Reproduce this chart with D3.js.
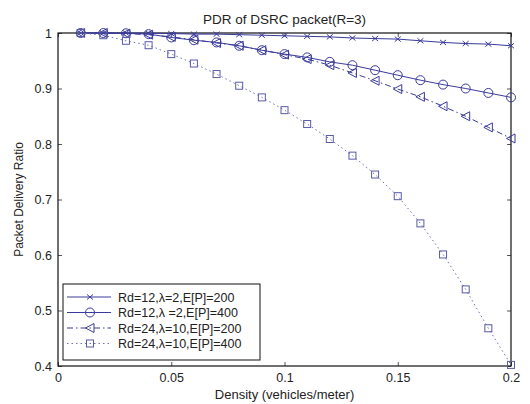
<!DOCTYPE html>
<html>
<head>
<meta charset="utf-8">
<script src="https://cdn.jsdelivr.net/npm/d3@7"></script>
<style>
  body { margin: 0; background: #fff; }
  svg text { font-family: "Liberation Sans", Arial, sans-serif; fill: #222; }
</style>
</head>
<body>
<div id="chart"></div>
<script>
// density values (vehicles/meter)
const density = [0.01, 0.02, 0.03, 0.04, 0.05, 0.06, 0.07, 0.08, 0.09, 0.10,
                 0.11, 0.12, 0.13, 0.14, 0.15, 0.16, 0.17, 0.18, 0.19, 0.20];

const pdrA = [1.0, 1.0, 1.0, 0.9997, 0.999, 0.998, 0.998, 0.997, 0.996, 0.995,
              0.994, 0.993, 0.991, 0.990, 0.989, 0.986, 0.983, 0.981, 0.980, 0.977];
const pdrB = [1.0, 1.0, 0.9995, 0.998, 0.992, 0.987, 0.983, 0.977, 0.969, 0.962,
              0.956, 0.948, 0.942, 0.933, 0.924, 0.915, 0.907, 0.900, 0.892, 0.884];
const pdrC = [1.0, 1.0, 0.999, 0.997, 0.993, 0.988, 0.982, 0.977, 0.969, 0.961,
              0.953, 0.942, 0.928, 0.914, 0.899, 0.885, 0.868, 0.850, 0.830, 0.810];
const pdrD = [1.0, 0.996, 0.986, 0.978, 0.962, 0.945, 0.926, 0.905, 0.884, 0.861,
              0.836, 0.809, 0.779, 0.745, 0.706, 0.657, 0.601, 0.538, 0.468, 0.402];

const seriesNames = ["Rd=12,\u03bb=2,E[P]=200", "Rd=12,\u03bb =2,E[P]=400",
                     "Rd=24,\u03bb=10,E[P]=200", "Rd=24,\u03bb=10,E[P]=400"];
const markers = ["cross", "circle", "triangle", "square"];
const dashes = [null, null, "6,3,1.5,3", "1.5,3"];

const xTicks = [0, 0.05, 0.1, 0.15, 0.2];
const yTicks = [0.4, 0.5, 0.6, 0.7, 0.8, 0.9, 1];

const width = 530, height = 404;
const margin = { top: 33, right: 19, bottom: 38, left: 58 };
const color = "#3a3a9c";

const svg = d3.select("#chart").append("svg")
  .attr("width", width).attr("height", height);

const x = d3.scaleLinear().domain([0, 0.2]).range([margin.left, width - margin.right]);
const y = d3.scaleLinear().domain([0.4, 1]).range([height - margin.bottom, margin.top]);

// axes, MATLAB style ticks pointing inward
const fmt = d => d3.format("~g")(d);
svg.append("g")
  .attr("transform", `translate(0,${y(0.4)})`)
  .call(d3.axisBottom(x).tickValues(xTicks).tickFormat(fmt).tickSizeInner(-4).tickSizeOuter(0).tickPadding(7))
  .call(g => g.select(".domain").remove())
  .call(g => g.selectAll("text").style("font-size", "12.5px").attr("fill", "#222"));
svg.append("g")
  .attr("transform", `translate(${x(0)},0)`)
  .call(d3.axisLeft(y).tickValues(yTicks).tickFormat(fmt).tickSizeInner(-4).tickSizeOuter(0).tickPadding(6))
  .call(g => g.select(".domain").remove())
  .call(g => g.selectAll("text").style("font-size", "12.5px").attr("fill", "#222"));
svg.append("g")
  .attr("transform", `translate(0,${y(1)})`)
  .call(d3.axisTop(x).tickValues(xTicks).tickFormat("").tickSizeInner(-4).tickSizeOuter(0))
  .call(g => g.select(".domain").remove());
svg.append("g")
  .attr("transform", `translate(${x(0.2)},0)`)
  .call(d3.axisRight(y).tickValues(yTicks).tickFormat("").tickSizeInner(-4).tickSizeOuter(0))
  .call(g => g.select(".domain").remove());
svg.selectAll(".tick line").attr("stroke", "#555");

svg.append("rect")
  .attr("x", x(0)).attr("y", y(1))
  .attr("width", x(0.2) - x(0)).attr("height", y(0.4) - y(1))
  .attr("fill", "none").attr("stroke", "#111").attr("stroke-width", 1.2);

function drawMarker(g, type, cx, cy) {
  if (type === "cross") {
    g.append("path").attr("d", `M${cx - 3},${cy - 2.5}L${cx + 3},${cy + 2.5}M${cx - 3},${cy + 2.5}L${cx + 3},${cy - 2.5}`)
      .attr("stroke", color).attr("fill", "none");
  } else if (type === "circle") {
    g.append("circle").attr("cx", cx).attr("cy", cy).attr("r", 4.5)
      .attr("stroke", color).attr("fill", "none");
  } else if (type === "triangle") {
    g.append("path").attr("d", `M${cx - 4.5},${cy}L${cx + 4},${cy - 4.5}L${cx + 4},${cy + 4.5}Z`)
      .attr("stroke", color).attr("fill", "none");
  } else {
    g.append("rect").attr("x", cx - 3.5).attr("y", cy - 3.5).attr("width", 7).attr("height", 7)
      .attr("stroke", "#5a5aa8").attr("fill", "none");
  }
}

const allSeries = [pdrA, pdrB, pdrC, pdrD];
const line = d3.line().x((d, i) => x(density[i])).y(d => y(d));

allSeries.forEach((vals, k) => {
  const g = svg.append("g");
  g.append("path")
    .datum(vals)
    .attr("d", line)
    .attr("fill", "none")
    .attr("stroke", k === 3 ? "#7070b4" : color)
    .attr("stroke-width", 1)
    .attr("stroke-dasharray", dashes[k]);
  vals.forEach((v, i) => drawMarker(g, markers[k], x(density[i]), y(v)));
});

// legend
const legend = svg.append("g");
legend.append("rect")
  .attr("x", 63).attr("y", 284).attr("width", 197).attr("height", 76)
  .attr("fill", "#fff").attr("stroke", "#111");
seriesNames.forEach((name, k) => {
  const ly = 297 + k * 15.5;
  legend.append("line")
    .attr("x1", 67).attr("x2", 111).attr("y1", ly).attr("y2", ly)
    .attr("stroke", k === 3 ? "#7070b4" : color)
    .attr("stroke-dasharray", dashes[k]);
  drawMarker(legend, markers[k], 90, ly);
  legend.append("text")
    .attr("x", 118).attr("y", ly + 4.5)
    .style("font-size", "12.5px")
    .text(name);
});

// titles
svg.append("text")
  .attr("x", (x(0) + x(0.2)) / 2).attr("y", 24)
  .attr("text-anchor", "middle")
  .style("font-size", "13.5px")
  .text("PDR of DSRC packet(R=3)");
svg.append("text")
  .attr("x", (x(0) + x(0.2)) / 2).attr("y", 399)
  .attr("text-anchor", "middle")
  .style("font-size", "13px")
  .text("Density (vehicles/meter)");
svg.append("text")
  .attr("transform", `translate(23,${(y(0.4) + y(1)) / 2}) rotate(-90)`)
  .attr("text-anchor", "middle")
  .style("font-size", "12px")
  .text("Packet Delivery Ratio");
</script>
</body>
</html>
